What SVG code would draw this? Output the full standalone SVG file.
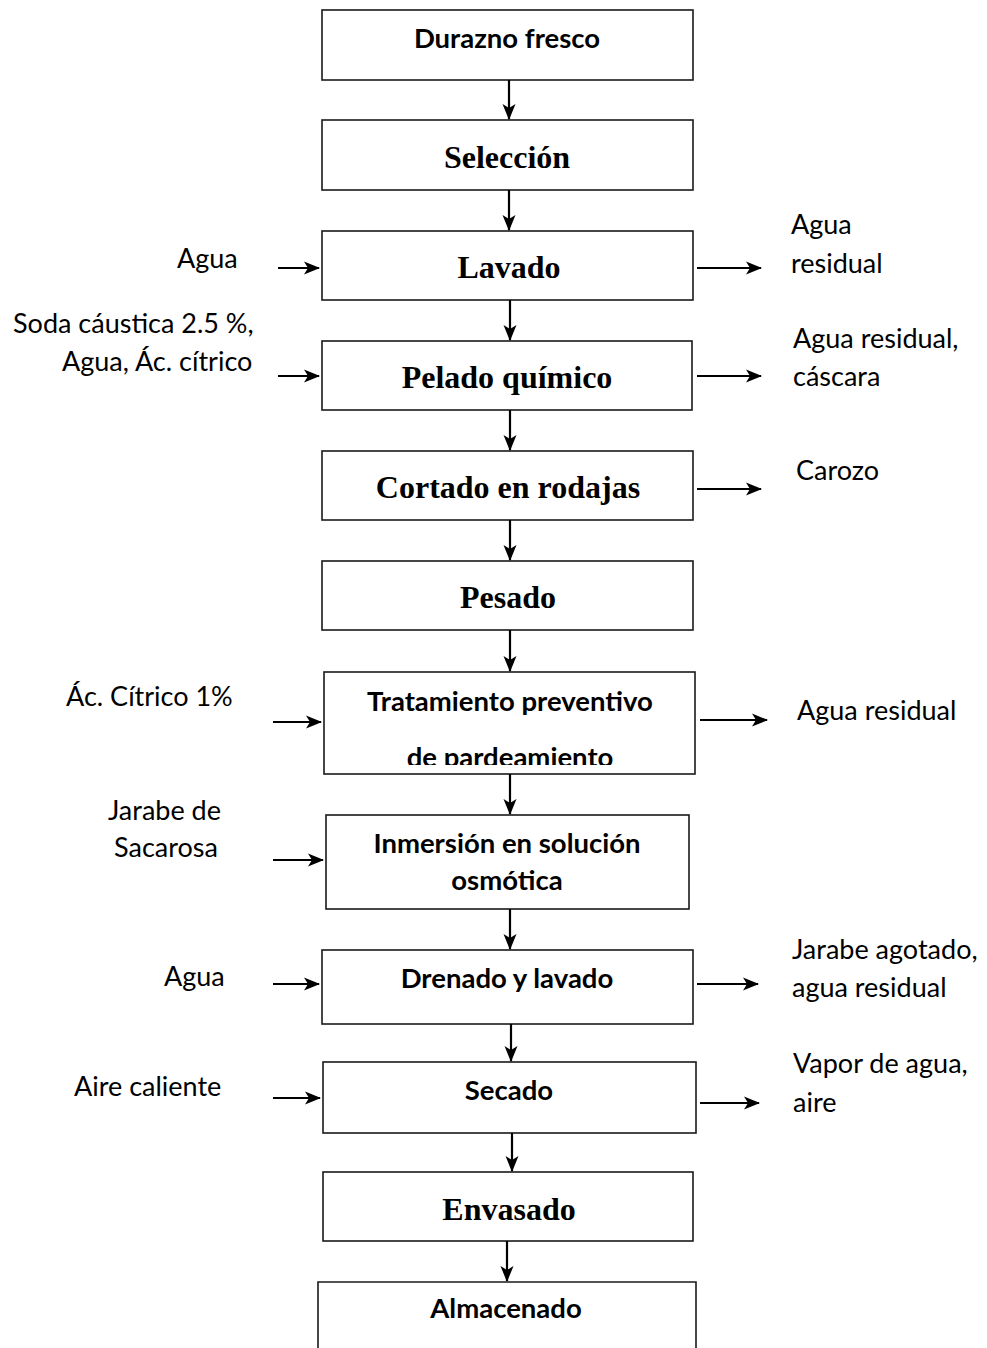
<svg xmlns="http://www.w3.org/2000/svg" width="987" height="1348" viewBox="0 0 987 1348">
<style>
.box{fill:#fff;stroke:#1a1a1a;stroke-width:1.6}
.tb{font-family:"Liberation Serif","Times New Roman",serif;font-weight:bold;font-size:32px;fill:#000;text-anchor:middle}
.cb{font-family:Lato,"Open Sans",sans-serif;font-weight:bold;font-size:27.5px;fill:#000;text-anchor:middle}
.lb{font-family:Lato,"Open Sans",sans-serif;font-size:27px;fill:#000}
.c{stroke:#000;stroke-width:2.2;fill:none;marker-end:url(#ah)}
</style>
<defs>
<marker id="ah" markerWidth="16" markerHeight="16" refX="15" refY="8" orient="auto" markerUnits="userSpaceOnUse">
<path d="M0,1.5 L16,8 L0,14.5 L4,8 z" fill="#000"/>
</marker>
<clipPath id="clipT"><rect x="324" y="672" width="371" height="93"/></clipPath>
</defs>
<rect width="987" height="1348" fill="#fff"/>

<g id="n1"><rect class="box" x="322" y="10" width="371" height="70"/><text class="cb" x="507" y="48">Durazno fresco</text></g>
<g id="n2"><rect class="box" x="322" y="120" width="371" height="70"/><text class="tb" x="507" y="168">Selección</text></g>
<g id="n3"><rect class="box" x="322" y="231" width="371" height="69"/><text class="tb" x="509" y="278">Lavado</text></g>
<g id="n4"><rect class="box" x="322" y="341" width="370" height="69"/><text class="tb" x="507" y="388">Pelado químico</text></g>
<g id="n5"><rect class="box" x="322" y="451" width="371" height="69"/><text class="tb" x="508" y="498">Cortado en rodajas</text></g>
<g id="n6"><rect class="box" x="322" y="561" width="371" height="69"/><text class="tb" x="508" y="608">Pesado</text></g>
<g id="n7"><rect class="box" x="324" y="672" width="371" height="102"/><g clip-path="url(#clipT)"><text class="cb" x="510" y="711">Tratamiento preventivo</text><text class="cb" x="510" y="767">de pardeamiento</text></g></g>
<g id="n8"><rect class="box" x="326" y="815" width="363" height="94"/><text class="cb" x="507" y="853">Inmersión en solución</text><text class="cb" x="507" y="890">osmótica</text></g>
<g id="n9"><rect class="box" x="322" y="950" width="371" height="74"/><text class="cb" x="507" y="988">Drenado y lavado</text></g>
<g id="n10"><rect class="box" x="323" y="1062" width="373" height="71"/><text class="cb" x="509" y="1100">Secado</text></g>
<g id="n11"><rect class="box" x="323" y="1172" width="370" height="69"/><text class="tb" x="509" y="1220">Envasado</text></g>
<g id="n12"><path class="box" d="M318,1350 L318,1282 L696,1282 L696,1350"/><text class="cb" x="506" y="1318">Almacenado</text></g>

<g id="labels">
<text class="lb" x="177" y="268">Agua</text>
<text class="lb" x="791" y="234">Agua</text>
<text class="lb" x="791" y="273">residual</text>
<text class="lb" x="13" y="333">Soda cáustica 2.5 %,</text>
<text class="lb" x="62" y="371">Agua, Ác. cítrico</text>
<text class="lb" x="793" y="348">Agua residual,</text>
<text class="lb" x="793" y="386">cáscara</text>
<text class="lb" x="796" y="480">Carozo</text>
<text class="lb" x="66" y="706">Ác. Cítrico 1%</text>
<text class="lb" x="797" y="720">Agua residual</text>
<text class="lb" x="108" y="820">Jarabe de</text>
<text class="lb" x="114" y="857">Sacarosa</text>
<text class="lb" x="164" y="986">Agua</text>
<text class="lb" x="792" y="959">Jarabe agotado,</text>
<text class="lb" x="792" y="997">agua residual</text>
<text class="lb" x="74" y="1096">Aire caliente</text>
<text class="lb" x="793" y="1073">Vapor de agua,</text>
<text class="lb" x="793" y="1112">aire</text>
</g>

<g id="connectors">
<line class="c" x1="509" y1="80" x2="509" y2="119"/>
<line class="c" x1="509" y1="190" x2="509" y2="230"/>
<line class="c" x1="510" y1="300" x2="510" y2="340"/>
<line class="c" x1="510" y1="410" x2="510" y2="450"/>
<line class="c" x1="510" y1="520" x2="510" y2="560"/>
<line class="c" x1="510" y1="630" x2="510" y2="671"/>
<line class="c" x1="510" y1="774" x2="510" y2="814"/>
<line class="c" x1="510" y1="909" x2="510" y2="949"/>
<line class="c" x1="511" y1="1024" x2="511" y2="1061"/>
<line class="c" x1="512" y1="1133" x2="512" y2="1171"/>
<line class="c" x1="507" y1="1241" x2="507" y2="1281"/>

<line class="c" x1="278" y1="268" x2="319" y2="268"/>
<line class="c" x1="697" y1="268" x2="761" y2="268"/>
<line class="c" x1="278" y1="376" x2="319" y2="376"/>
<line class="c" x1="697" y1="376" x2="761" y2="376"/>
<line class="c" x1="697" y1="489" x2="761" y2="489"/>
<line class="c" x1="273" y1="722" x2="321" y2="722"/>
<line class="c" x1="700" y1="720" x2="767" y2="720"/>
<line class="c" x1="273" y1="860" x2="323" y2="860"/>
<line class="c" x1="273" y1="984" x2="319" y2="984"/>
<line class="c" x1="697" y1="984" x2="758" y2="984"/>
<line class="c" x1="273" y1="1098" x2="320" y2="1098"/>
<line class="c" x1="700" y1="1103" x2="759" y2="1103"/>
</g>
</svg>
